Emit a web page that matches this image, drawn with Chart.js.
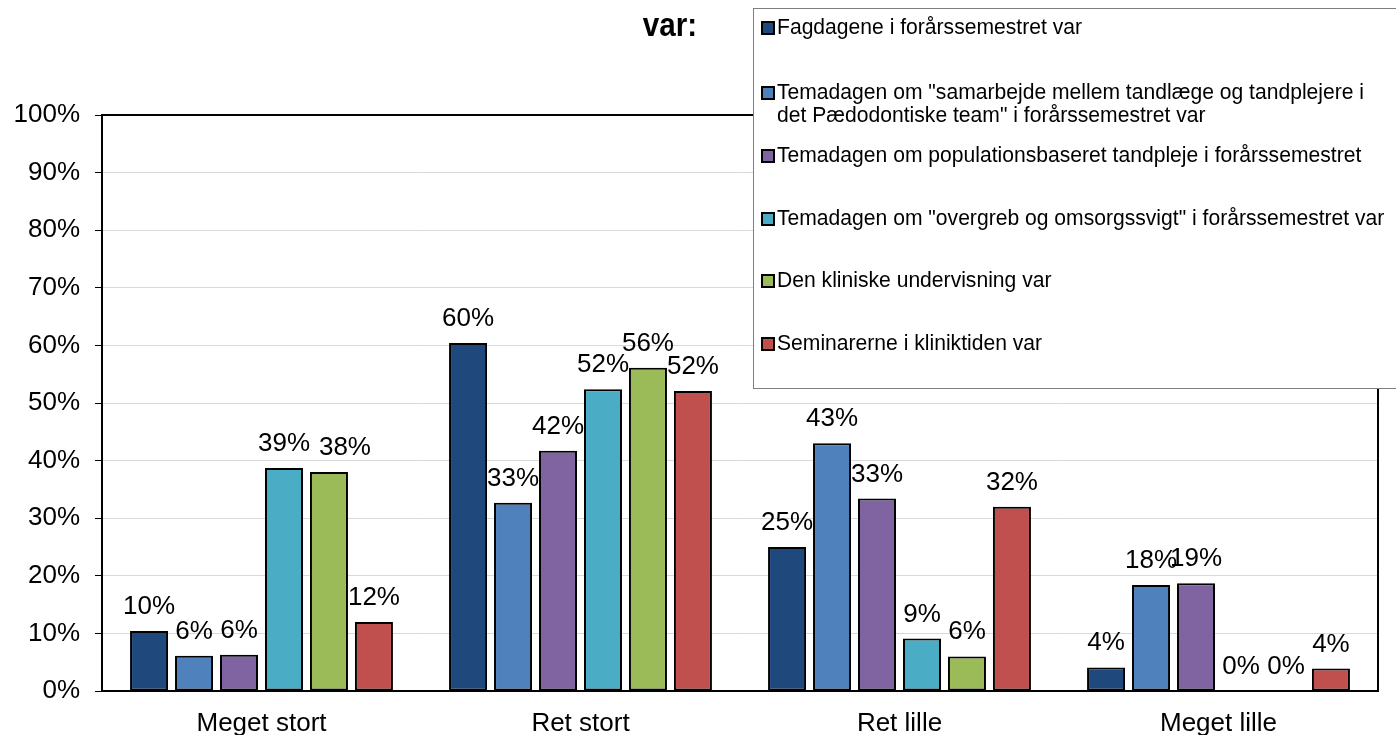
<!DOCTYPE html>
<html>
<head>
<meta charset="utf-8">
<script src="https://cdn.jsdelivr.net/npm/chart.js@4"></script>
<style>
  html, body { margin: 0; padding: 0; background: #fff; }
  #wrap { width: 1396px; height: 735px; }
</style>
</head>
<body>
<div id="wrap"><canvas id="barChart" width="1396" height="735"></canvas></div>
<script>
const categories = ["Meget stort", "Ret stort", "Ret lille", "Meget lille"];

const seriesNames = [
  "Fagdagene i forårssemestret var",
  "Temadagen om \"samarbejde mellem tandlæge og tandplejere i det Pædodontiske team\" i forårssemestret var",
  "Temadagen om populationsbaseret tandpleje i forårssemestret",
  "Temadagen om \"overgreb og omsorgssvigt\" i forårssemestret var",
  "Den kliniske undervisning var",
  "Seminarerne i kliniktiden var"
];

const fagdage = [10.4, 60.4, 25.0, 4.1];
const samarbejde = [6.1, 32.7, 43.0, 18.4];
const population = [6.3, 41.7, 33.4, 18.7];
const overgreb = [38.7, 52.4, 9.1, 0];
const klinisk = [38.0, 56.1, 6.0, 0];
const seminar = [12.0, 52.1, 32.0, 3.9];

const yTicks = [0, 10, 20, 30, 40, 50, 60, 70, 80, 90, 100];

const colors = ["#1f497d", "#4f81bd", "#8064a2", "#4bacc6", "#9bbb59", "#c0504d"];
const seriesValues = [fagdage, samarbejde, population, overgreb, klinisk, seminar];

const FONT = "'Liberation Sans', Arial, sans-serif";
Chart.defaults.font.family = FONT;
Chart.defaults.color = "#000";

// frame around the plot area (top and right side)
const framePlugin = {
  id: 'frame',
  beforeDatasetsDraw(chart) {
    const { ctx, chartArea: a } = chart;
    ctx.save();
    ctx.strokeStyle = '#000';
    ctx.lineWidth = 2;
    ctx.beginPath();
    ctx.moveTo(a.left, a.top);
    ctx.lineTo(a.right, a.top);
    ctx.lineTo(a.right, a.bottom);
    ctx.stroke();
    ctx.restore();
  }
};

// percentage labels above each bar
const valueLabels = {
  id: 'valueLabels',
  afterDatasetsDraw(chart) {
    const ctx = chart.ctx;
    ctx.save();
    ctx.font = "26px " + FONT;
    ctx.fillStyle = '#000';
    ctx.textAlign = 'center';
    ctx.textBaseline = 'alphabetic';
    chart.data.datasets.forEach((ds, i) => {
      chart.getDatasetMeta(i).data.forEach((bar, j) => {
        // the 38% label in the first group was nudged right in the original
        const dx = (i === 4 && j === 0) ? 16 : 0;
        ctx.fillText(Math.round(ds.data[j]) + '%', bar.x + dx, bar.y - 17);
      });
    });
    ctx.restore();
  }
};

// legend box drawn over the upper right of the plot, plus title text
const boxLegend = {
  id: 'boxLegend',
  afterDraw(chart) {
    const ctx = chart.ctx;
    ctx.save();
    ctx.fillStyle = '#fff';
    ctx.fillRect(753, 8, 660, 380);
    ctx.strokeStyle = '#7f7f7f';
    ctx.lineWidth = 1;
    ctx.strokeRect(753.5, 8.5, 660, 380);

    ctx.font = "22px " + FONT;
    const sx = 305 / ctx.measureText(seriesNames[0]).width;
    const maxW = 620;
    const rowY = [28, 93, 156, 219, 281, 344];

    chart.data.datasets.forEach((ds, i) => {
      const y = rowY[i];
      ctx.fillStyle = ds.backgroundColor;
      ctx.fillRect(762, y - 6, 12, 12);
      ctx.strokeStyle = '#000';
      ctx.lineWidth = 2;
      ctx.strokeRect(762, y - 6, 12, 12);

      // simple word wrap
      const words = ds.label.split(' ');
      const lines = [];
      let cur = '';
      words.forEach(w => {
        const t = cur ? cur + ' ' + w : w;
        if (ctx.measureText(t).width * sx > maxW && cur) {
          lines.push(cur);
          cur = w;
        } else cur = t;
      });
      lines.push(cur);

      ctx.fillStyle = '#000';
      ctx.textBaseline = 'middle';
      ctx.textAlign = 'left';
      lines.forEach((ln, k) => {
        ctx.save();
        ctx.translate(777, y + k * 23);
        ctx.scale(sx, 1);
        ctx.fillText(ln, 0, 0);
        ctx.restore();
      });
    });

    ctx.font = "bold 34px " + FONT;
    ctx.textAlign = 'center';
    ctx.textBaseline = 'alphabetic';
    ctx.save();
    ctx.translate(670, 36);
    ctx.scale(0.87, 1);
    ctx.fillText('var:', 0, 0);
    ctx.restore();
    ctx.restore();
  }
};

const ctx = document.getElementById('barChart').getContext('2d');

const chart = new Chart(ctx, {
  type: 'bar',
  data: {
    labels: categories,
    datasets: seriesValues.map((vals, i) => ({
      label: seriesNames[i],
      data: vals,
      backgroundColor: colors[i],
      borderColor: '#000',
      borderWidth: 2,
      borderSkipped: false,
      barPercentage: 0.845,
      categoryPercentage: 0.846
    }))
  },
  options: {
    responsive: false,
    animation: false,
    layout: { padding: { top: 115, right: 18, left: 0, bottom: 0 } },
    scales: {
      x: {
        grid: { display: false, drawTicks: false },
        border: { display: true, color: '#000', width: 2 },
        ticks: { font: { size: 26 }, color: '#000', padding: 17, maxRotation: 0 },
        afterFit(scale) { scale.height = 44; }
      },
      y: {
        min: 0,
        max: 100,
        afterBuildTicks(scale) { scale.ticks = yTicks.map(v => ({ value: v })); },
        ticks: {
          font: { size: 26 },
          color: '#000',
          padding: 15,
          callback: v => v + '%'
        },
        grid: { color: '#d9d9d9', lineWidth: 1, tickLength: 7, tickColor: '#000' },
        border: { display: true, color: '#000', width: 2 },
        afterFit(scale) { scale.width = 102; }
      }
    },
    plugins: {
      legend: { display: false },
      tooltip: { enabled: false }
    }
  },
  plugins: [framePlugin, valueLabels, boxLegend]
});
</script>
</body>
</html>
